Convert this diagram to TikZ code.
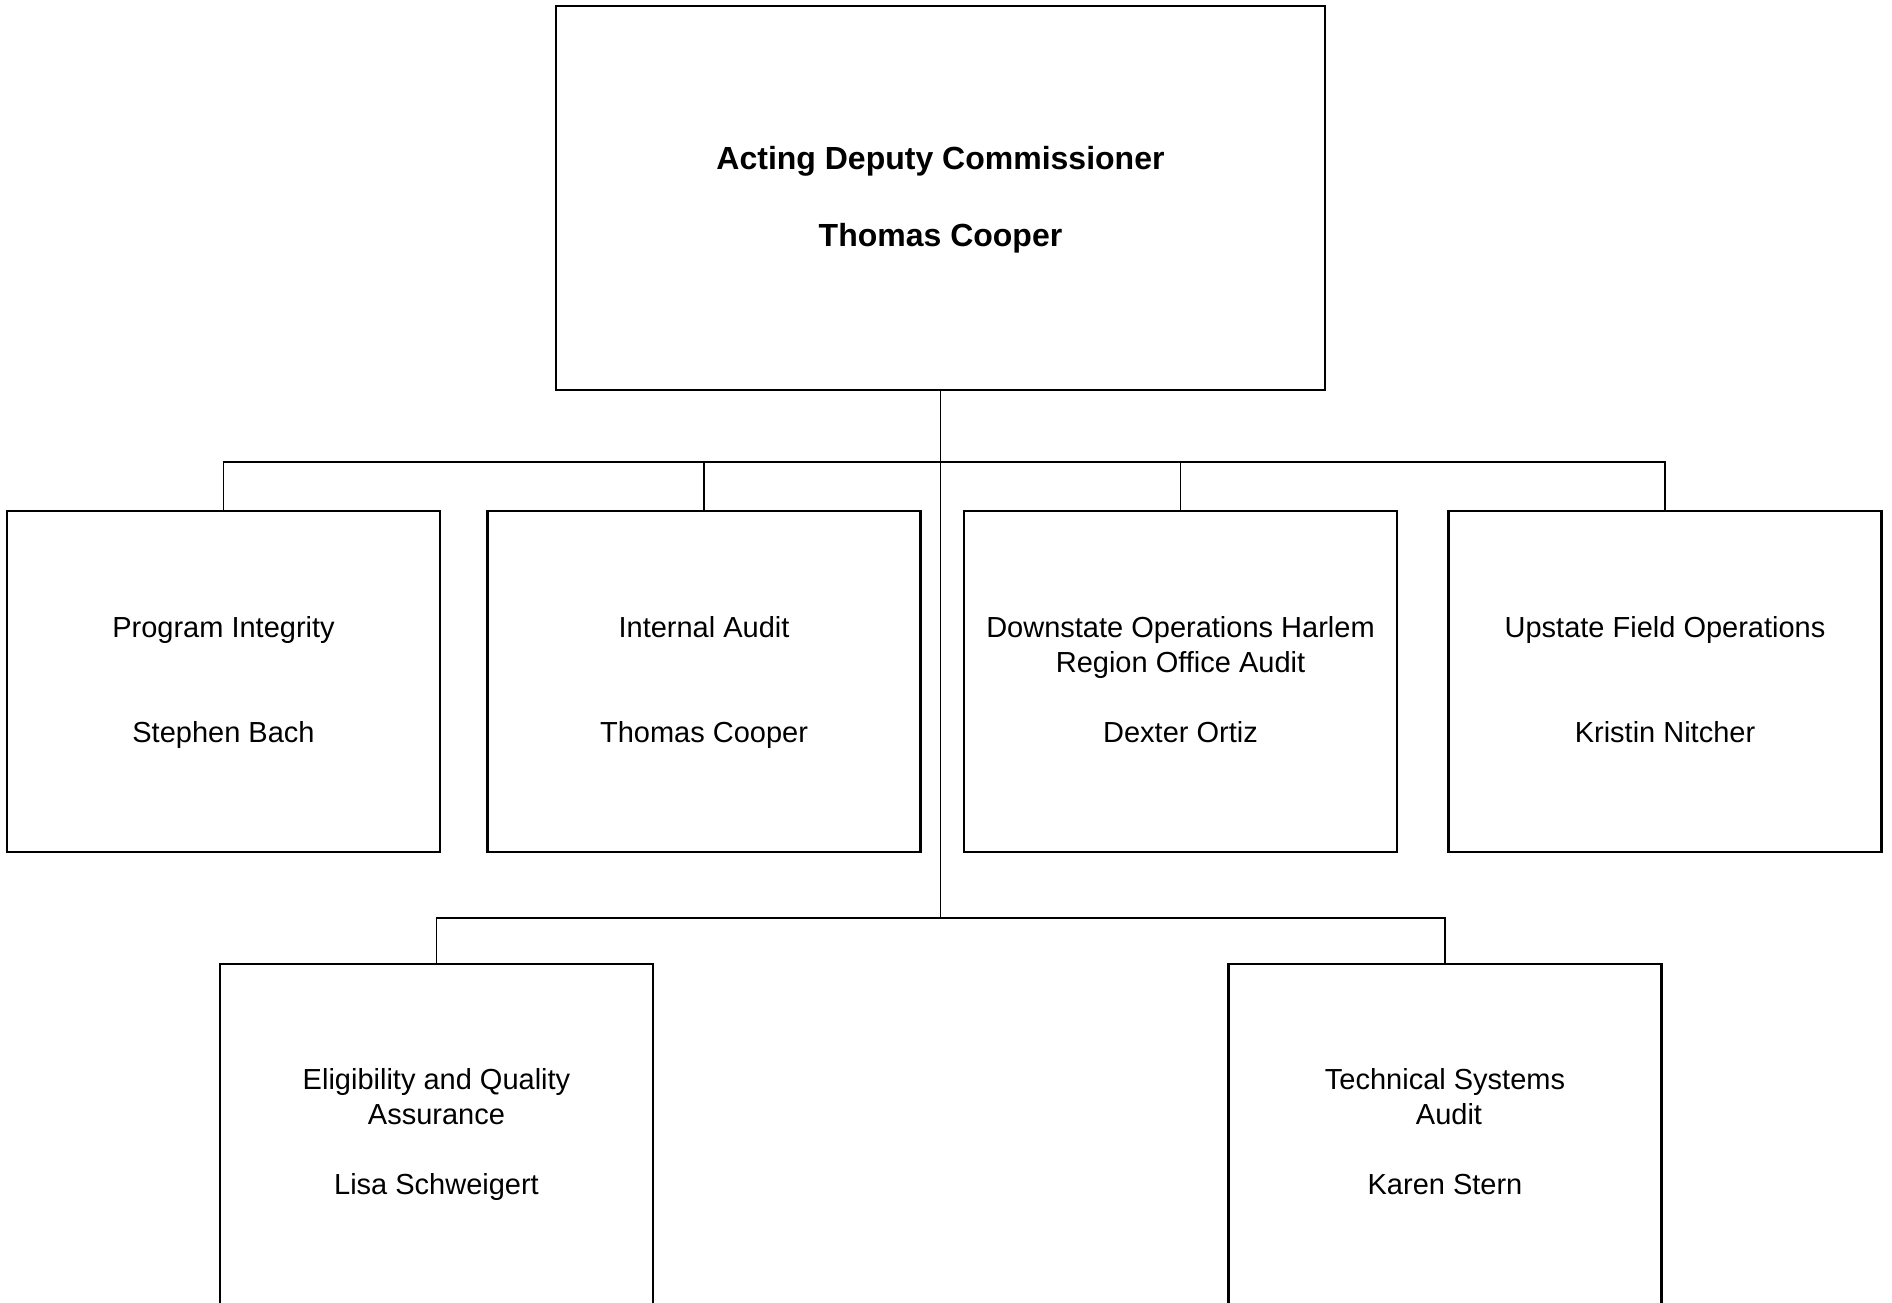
\documentclass[tikz,border=0pt]{standalone}
\usepackage{fontspec}
\setmainfont{Liberation Sans}
\begin{document}
\begin{tikzpicture}[x=1pt,y=-1pt,
  box/.style={draw=black,line width=2.2pt,minimum width=433pt,minimum height=341pt,inner sep=0pt,anchor=north,fill=white},
  topbox/.style={draw=black,line width=2.2pt,minimum width=769pt,minimum height=384pt,inner sep=0pt,anchor=north},
  conn/.style={draw=black,line width=1.5pt},
  txt/.style={anchor=base,inner sep=0pt,font=\fontsize{29}{35}\selectfont},
  ttl/.style={anchor=base,inner sep=0pt,font=\fontsize{32}{38}\selectfont\bfseries}]
\useasboundingbox (0,0) rectangle (1892,1302);
\clip (0,0) rectangle (1892,1302);
% boxes
\node[topbox] (top) at (940.5,5) {};
\node[box] (b1) at (223.5,510) {};
\node[box] (b2) at (704,510) {};
\node[box] (b3) at (1180.5,510) {};
\node[box] (b4) at (1665,510) {};
\node[box] (b5) at (436.5,963) {};
\node[box] (b6) at (1445,963) {};
% bus coordinates
\coordinate (bus1) at (940.5,462);
\coordinate (bus2) at (940.5,918);
% connectors
\draw[conn] (top.south) -- (bus2);
\draw[conn] (b1.north) -- (b1.north |- bus1) -- (b4.north |- bus1) -- (b4.north);
\draw[conn] (b2.north) -- (b2.north |- bus1);
\draw[conn] (b3.north) -- (b3.north |- bus1);
\draw[conn] (b5.north) -- (b5.north |- bus2) -- (b6.north |- bus2) -- (b6.north);
% texts
\node[ttl] (t0a) at ([yshift=-164pt]top.north) {Acting Deputy Commissioner};
\node[ttl] (t0b) at ([yshift=-241pt]top.north) {Thomas Cooper};
\node[txt] (t1a) at ([yshift=-127pt]b1.north) {Program Integrity};
\node[txt] (t1b) at ([yshift=-232pt]b1.north) {Stephen Bach};
\node[txt] (t2a) at ([yshift=-127pt]b2.north) {Internal Audit};
\node[txt] (t2b) at ([yshift=-232pt]b2.north) {Thomas Cooper};
\node[txt] (t3a) at ([yshift=-127pt]b3.north) {Downstate Operations Harlem};
\node[txt] (t3b) at ([yshift=-162pt]b3.north) {Region Office Audit};
\node[txt] (t3c) at ([yshift=-232pt]b3.north) {Dexter Ortiz};
\node[txt] (t4a) at ([yshift=-127pt]b4.north) {Upstate Field Operations};
\node[txt] (t4b) at ([yshift=-232pt]b4.north) {Kristin Nitcher};
\node[txt] (t5a) at ([yshift=-126pt]b5.north) {Eligibility and Quality};
\node[txt] (t5b) at ([yshift=-161pt]b5.north) {Assurance};
\node[txt] (t5c) at ([yshift=-231pt]b5.north) {Lisa Schweigert};
\node[txt] (t6a) at ([yshift=-126pt]b6.north) {Technical Systems};
\node[txt] (t6b) at ([yshift=-161pt,xshift=4pt]b6.north) {Audit};
\node[txt] (t6c) at ([yshift=-231pt]b6.north) {Karen Stern};
\end{tikzpicture}
\end{document}
